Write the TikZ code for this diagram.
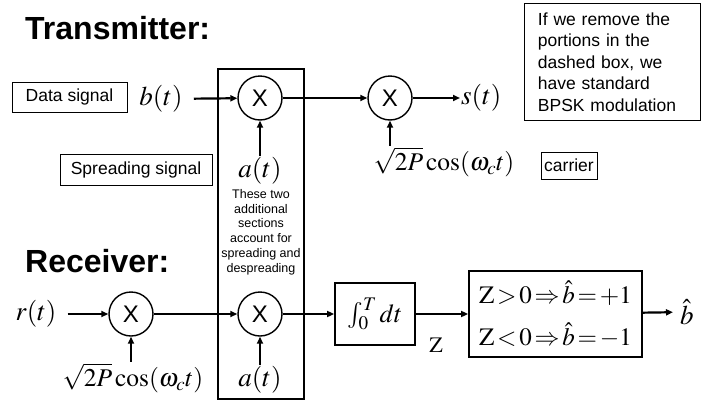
\documentclass[tikz,border=0pt]{standalone}
\usepackage{mathptmx}
\usepackage{fontspec}
\setmainfont{Liberation Sans}
\usetikzlibrary{arrows.meta}
\newcommand{\tightmath}{\thickmuskip=2mu\relax\medmuskip=1.5mu\relax}
\tikzset{
  arr/.style={line width=2.2pt,-{Triangle[length=7pt,width=6pt]}},
  mult/.style={circle,draw,line width=1.4pt,minimum size=44pt,inner sep=0pt,font=\fontsize{24}{28}\selectfont},
  tag/.style={draw,line width=0.9pt,inner sep=0pt,font=\fontsize{17.5}{21}\selectfont},
  mathlbl/.style={inner sep=1pt,font=\fontsize{27}{31}\selectfont},
  title/.style={anchor=base west,inner sep=0pt,font=\fontsize{32}{36}\selectfont\bfseries},
  blockbox/.style={draw,line width=1.8pt,inner sep=0pt},
}
\begin{document}
\begin{tikzpicture}[x=1pt,y=-1pt]
\useasboundingbox (0,0) rectangle (702,402);
% titles
\node[title] (ttx) at (25,39) {Transmitter:};
\node[title] (trx) at (25,272) {Receiver:};
% the (nominally dashed) box
\draw[line width=1.3pt] (218,69) rectangle (304,399);
\node[align=center,inner sep=0pt,font=\fontsize{12.5}{14.8}\selectfont] (note2) at (261,232)
  {These two\\additional\\sections\\account for\\spreading and\\despreading};
% note box
\node[draw,line width=0.9pt,anchor=north west,minimum width=176pt,minimum height=117pt,
      text width=165pt,align=left,inner sep=0pt,font=\fontsize{17.5}{21.5}\selectfont] (note) at (524,3)
  {\hspace*{8pt}\parbox[c][117pt][c]{160pt}{If we remove the\\portions in the\\dashed box, we\\have standard\\BPSK modulation}};
% transmitter
\node[tag,minimum width=115pt,minimum height=30pt] (data) at (69.5,97) {Data signal};
\node[mathlbl] (bt) at (161,99) {$b(t)$};
\node[mult] (m1) at (260,98) {X};
\node[mult] (m2) at (390,98) {X};
\node[mathlbl,anchor=west] (st) at (460,98) {$s(t)$};
\node[tag,minimum width=152pt,minimum height=31pt] (spread) at (136,170) {Spreading signal};
\node[mathlbl] (at1) at (260,171) {$a(t)$};
\node[mathlbl,font=\fontsize{25.5}{30}\selectfont] (cos1) at (444,162) {$\sqrt{2P}\cos(\omega_c t)$};
\node[tag,minimum width=56pt,minimum height=27pt] (carrier) at (569,165.5) {carrier};
\draw[arr,shorten <=10pt] (bt) -- (m1);
\draw[arr] (m1) -- (m2);
\draw[arr] (m2) -- (st);
\draw[arr] (at1) -- (m1);
\draw[arr] (m2 |- cos1.north) -- (m2);
% receiver
\node[mathlbl] (rt) at (36,314) {$r(t)$};
\node[mult] (m3) at (131,314) {X};
\node[mult] (m4) at (260,314) {X};
\node[mathlbl,font=\fontsize{25.5}{30}\selectfont] (cos2) at (133,378) {$\sqrt{2P}\cos(\omega_c t)$};
\node[mathlbl] (at2) at (260,380) {$a(t)$};
\node[blockbox,minimum width=80pt,minimum height=62pt,font=\fontsize{26}{30}\selectfont] (int) at (375,314) {$\int_0^T dt$};
\node[mathlbl,font=\fontsize{22}{26}\selectfont] (zl) at (436,345) {$\mathrm{Z}$};
\node[blockbox,minimum width=173pt,minimum height=86pt,align=left,
      font=\fontsize{25}{42}\selectfont] (dec) at (555.5,314)
  {$\tightmath\mathrm{Z}>0\Rightarrow\hat{b}=+1$\\$\tightmath\mathrm{Z}<0\Rightarrow\hat{b}=-1$};
\node[mathlbl,anchor=west] (bhat) at (679,312) {$\hat{b}$};
\draw[arr,shorten <=10pt] (rt) -- (m3);
\draw[arr] (m3) -- (m4);
\draw[arr] (m4) -- (int);
\draw[arr] (m3 |- cos2.north) -- (m3);
\draw[arr] (at2) -- (m4);
\draw[arr] (int) -- (dec);
\draw[arr,shorten >=6pt] (dec) -- (bhat);
\end{tikzpicture}
\end{document}
